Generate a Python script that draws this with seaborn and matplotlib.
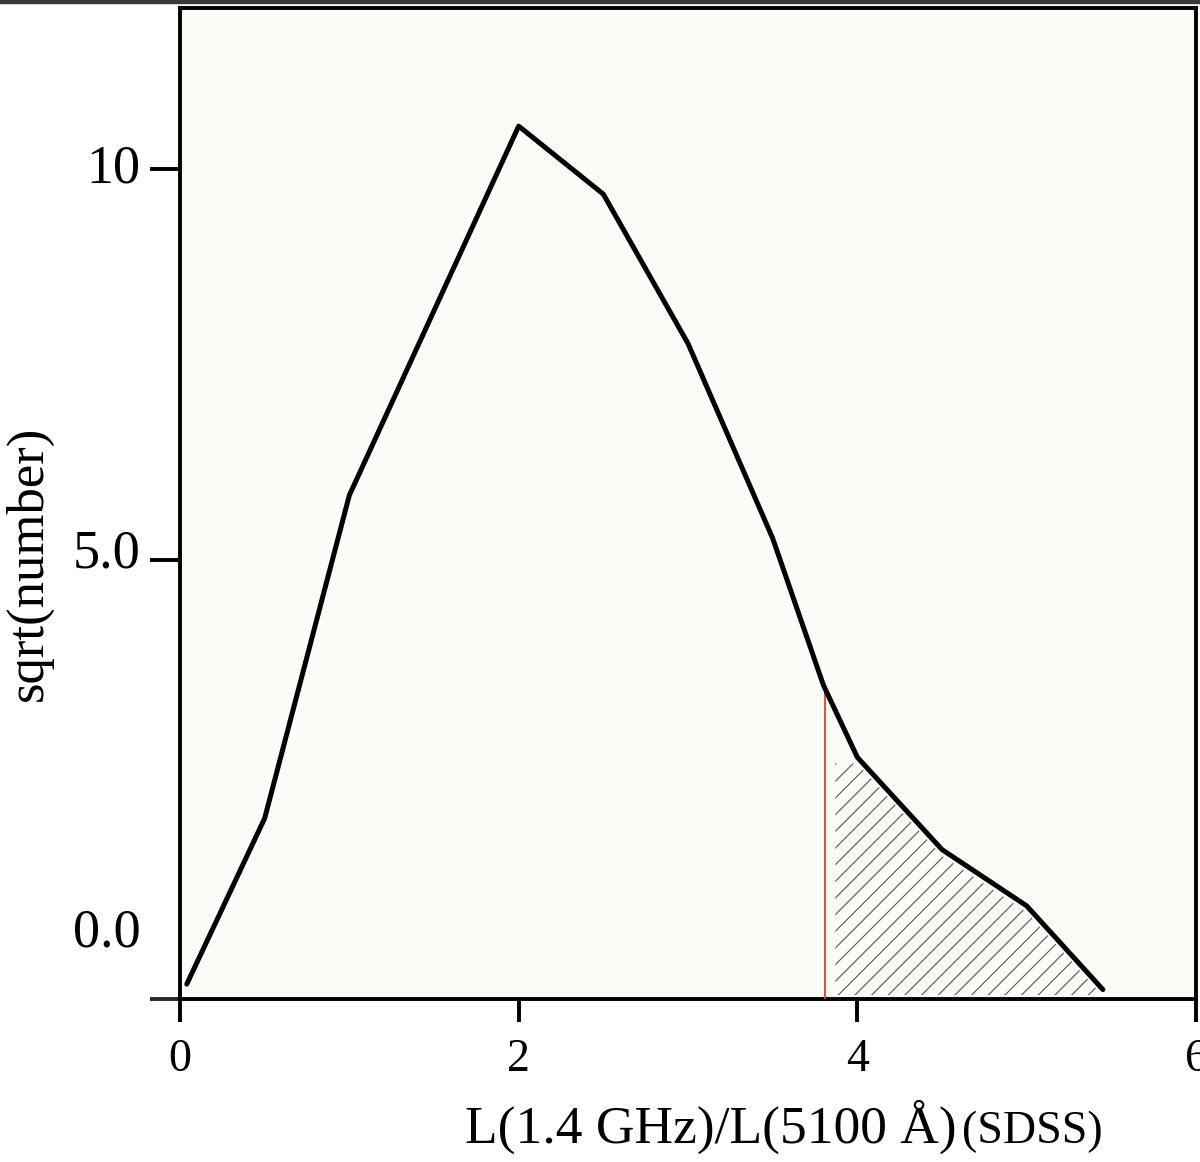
import matplotlib
matplotlib.use("Agg")
import matplotlib.pyplot as plt
import matplotlib.transforms as mtransforms
from matplotlib.patches import Rectangle
import seaborn as sns

# distribution curve
ratio = [0.04, 0.5, 1.0, 2.0, 2.5, 3.0, 3.5, 3.8, 4.0, 4.5, 5.0, 5.45]
sqrt_num = [-0.42, 1.70, 5.83, 10.55, 9.68, 7.77, 5.28, 3.40, 2.48, 1.30, 0.58, -0.49]

# hatched tail beyond the cut
tail_x = [3.87, 4.0, 4.5, 5.0, 5.42]
tail_top = [2.40, 2.40, 1.22, 0.50, -0.50]
tail_bottom = -0.56

# cut position (red line)
cut_x = 3.81
cut_top = 3.40

xticks = [0, 2, 4, 6]
yticks = [0, 5, 10]
ytick_labels = ["0.0", "5.0", "10"]
ylim = (-0.61, 12.06)

sns.set_style("ticks")
plt.rcParams["font.family"] = ["Liberation Serif", "DejaVu Serif"]
plt.rcParams["hatch.linewidth"] = 0.8
plt.rcParams["text.color"] = "black"
plt.rcParams["axes.labelcolor"] = "black"

fig = plt.figure(figsize=(12, 11.62), dpi=100)
ax = fig.add_axes([0.15, 0.1403, 0.8467, 0.8528])
ax.set_facecolor("#fafcf8")

# dark strip along the top of the screenshot
fig.patches.append(Rectangle((0, 0.997), 1, 0.003, transform=fig.transFigure,
                             color="#3a3a3a", zorder=0))

ax.fill_between(tail_x, tail_top, tail_bottom, facecolor="none",
                edgecolor="#555555", hatch="//", linewidth=0)

ax.vlines(cut_x, ylim[0], cut_top, color="#e8402a", linewidth=1.3, zorder=3)

sns.lineplot(x=ratio, y=sqrt_num, ax=ax, color="black", linewidth=3.6,
             sort=False, estimator=None, zorder=4)

ax.set_xlim(0, 6)
ax.set_ylim(*ylim)
ax.set_xticks(xticks)
ax.set_xticklabels([str(t) for t in xticks])
ax.set_yticks(yticks)
ax.set_yticklabels(ytick_labels)
ax.set_yticks([ylim[0]], minor=True)

for side in ["left", "right", "top", "bottom"]:
    ax.spines[side].set_visible(True)
    ax.spines[side].set_linewidth(2.8)
    ax.spines[side].set_color("black")

ax.tick_params(axis="y", which="major", direction="out", length=21.6, width=2.8,
               labelsize=39, pad=7, colors="black")
ax.tick_params(axis="y", which="minor", direction="out", length=21.6, width=2.8)
ax.tick_params(axis="x", direction="out", length=16.6, width=2.8,
               labelsize=33, pad=12, colors="black")

ax.yaxis.get_major_ticks()[0].tick1line.set_visible(False)

# labels sit a bit above their ticks in the original
for lab, dy in zip(ax.get_yticklabels(), [17, 8.5, 4.3]):
    lab.set_transform(lab.get_transform() +
                      mtransforms.ScaledTranslation(0, dy / 72, fig.dpi_scale_trans))

ax.set_ylabel("sqrt(number)", fontsize=38, color="black")
ax.yaxis.set_label_coords(-0.125, 0.44)

ax.set_xlabel("L(1.4 GHz)/L(5100 Å)", fontsize=38.5, ha="left", va="baseline",
              color="black")
ax.xaxis.set_label_coords(0.2805, -0.1453)
ax.text(0.7697, -0.1453, "(SDSS)", transform=ax.transAxes, fontsize=33,
        ha="left", va="baseline", color="black")

fig.savefig("out.png", dpi=100, facecolor="white")
